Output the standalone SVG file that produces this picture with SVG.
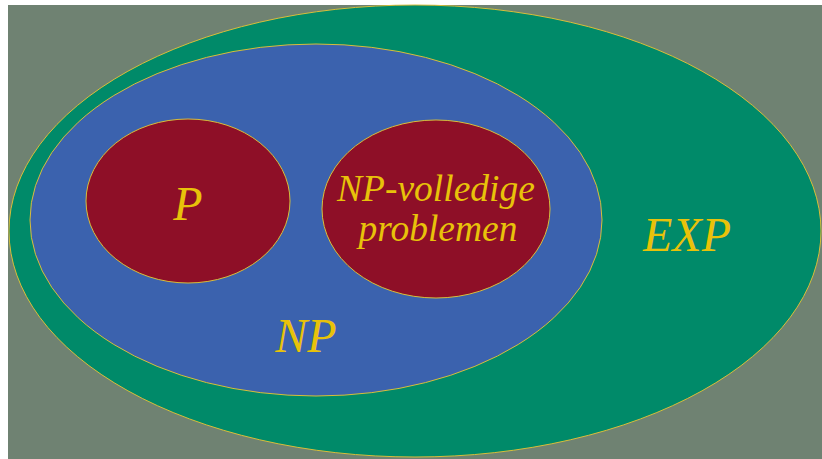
<svg xmlns="http://www.w3.org/2000/svg" width="822" height="459" viewBox="0 0 822 459">
<style>
.set{stroke:#d8be3a;stroke-width:1}
.lbl{font-family:"Liberation Serif","Times New Roman",serif;font-style:italic;fill:#e8c20a;text-anchor:middle}
</style>
<rect x="0" y="0" width="822" height="459" fill="#ffffff"/>
<rect x="8" y="5" width="814" height="454" fill="#6f8272"/>
<g id="EXP">
<ellipse class="set" cx="415" cy="231" rx="406" ry="226" fill="#008a69"/>
<text class="lbl" x="687" y="251" font-size="48">EXP</text>
</g>
<g id="NP">
<ellipse class="set" cx="316" cy="220" rx="286" ry="176" fill="#3b62ae"/>
<text class="lbl" x="306" y="352" font-size="48">NP</text>
</g>
<g id="P">
<ellipse class="set" cx="188" cy="201" rx="102" ry="82" fill="#8e0f27"/>
<text class="lbl" x="188" y="220" font-size="48">P</text>
</g>
<g id="NPC">
<ellipse class="set" cx="436" cy="209" rx="114" ry="89" fill="#8e0f27"/>
<text class="lbl" x="436" y="201" font-size="37.5">NP-volledige</text>
<text class="lbl" x="438" y="241" font-size="37.5">problemen</text>
</g>
<g id="connectors"/>
</svg>
